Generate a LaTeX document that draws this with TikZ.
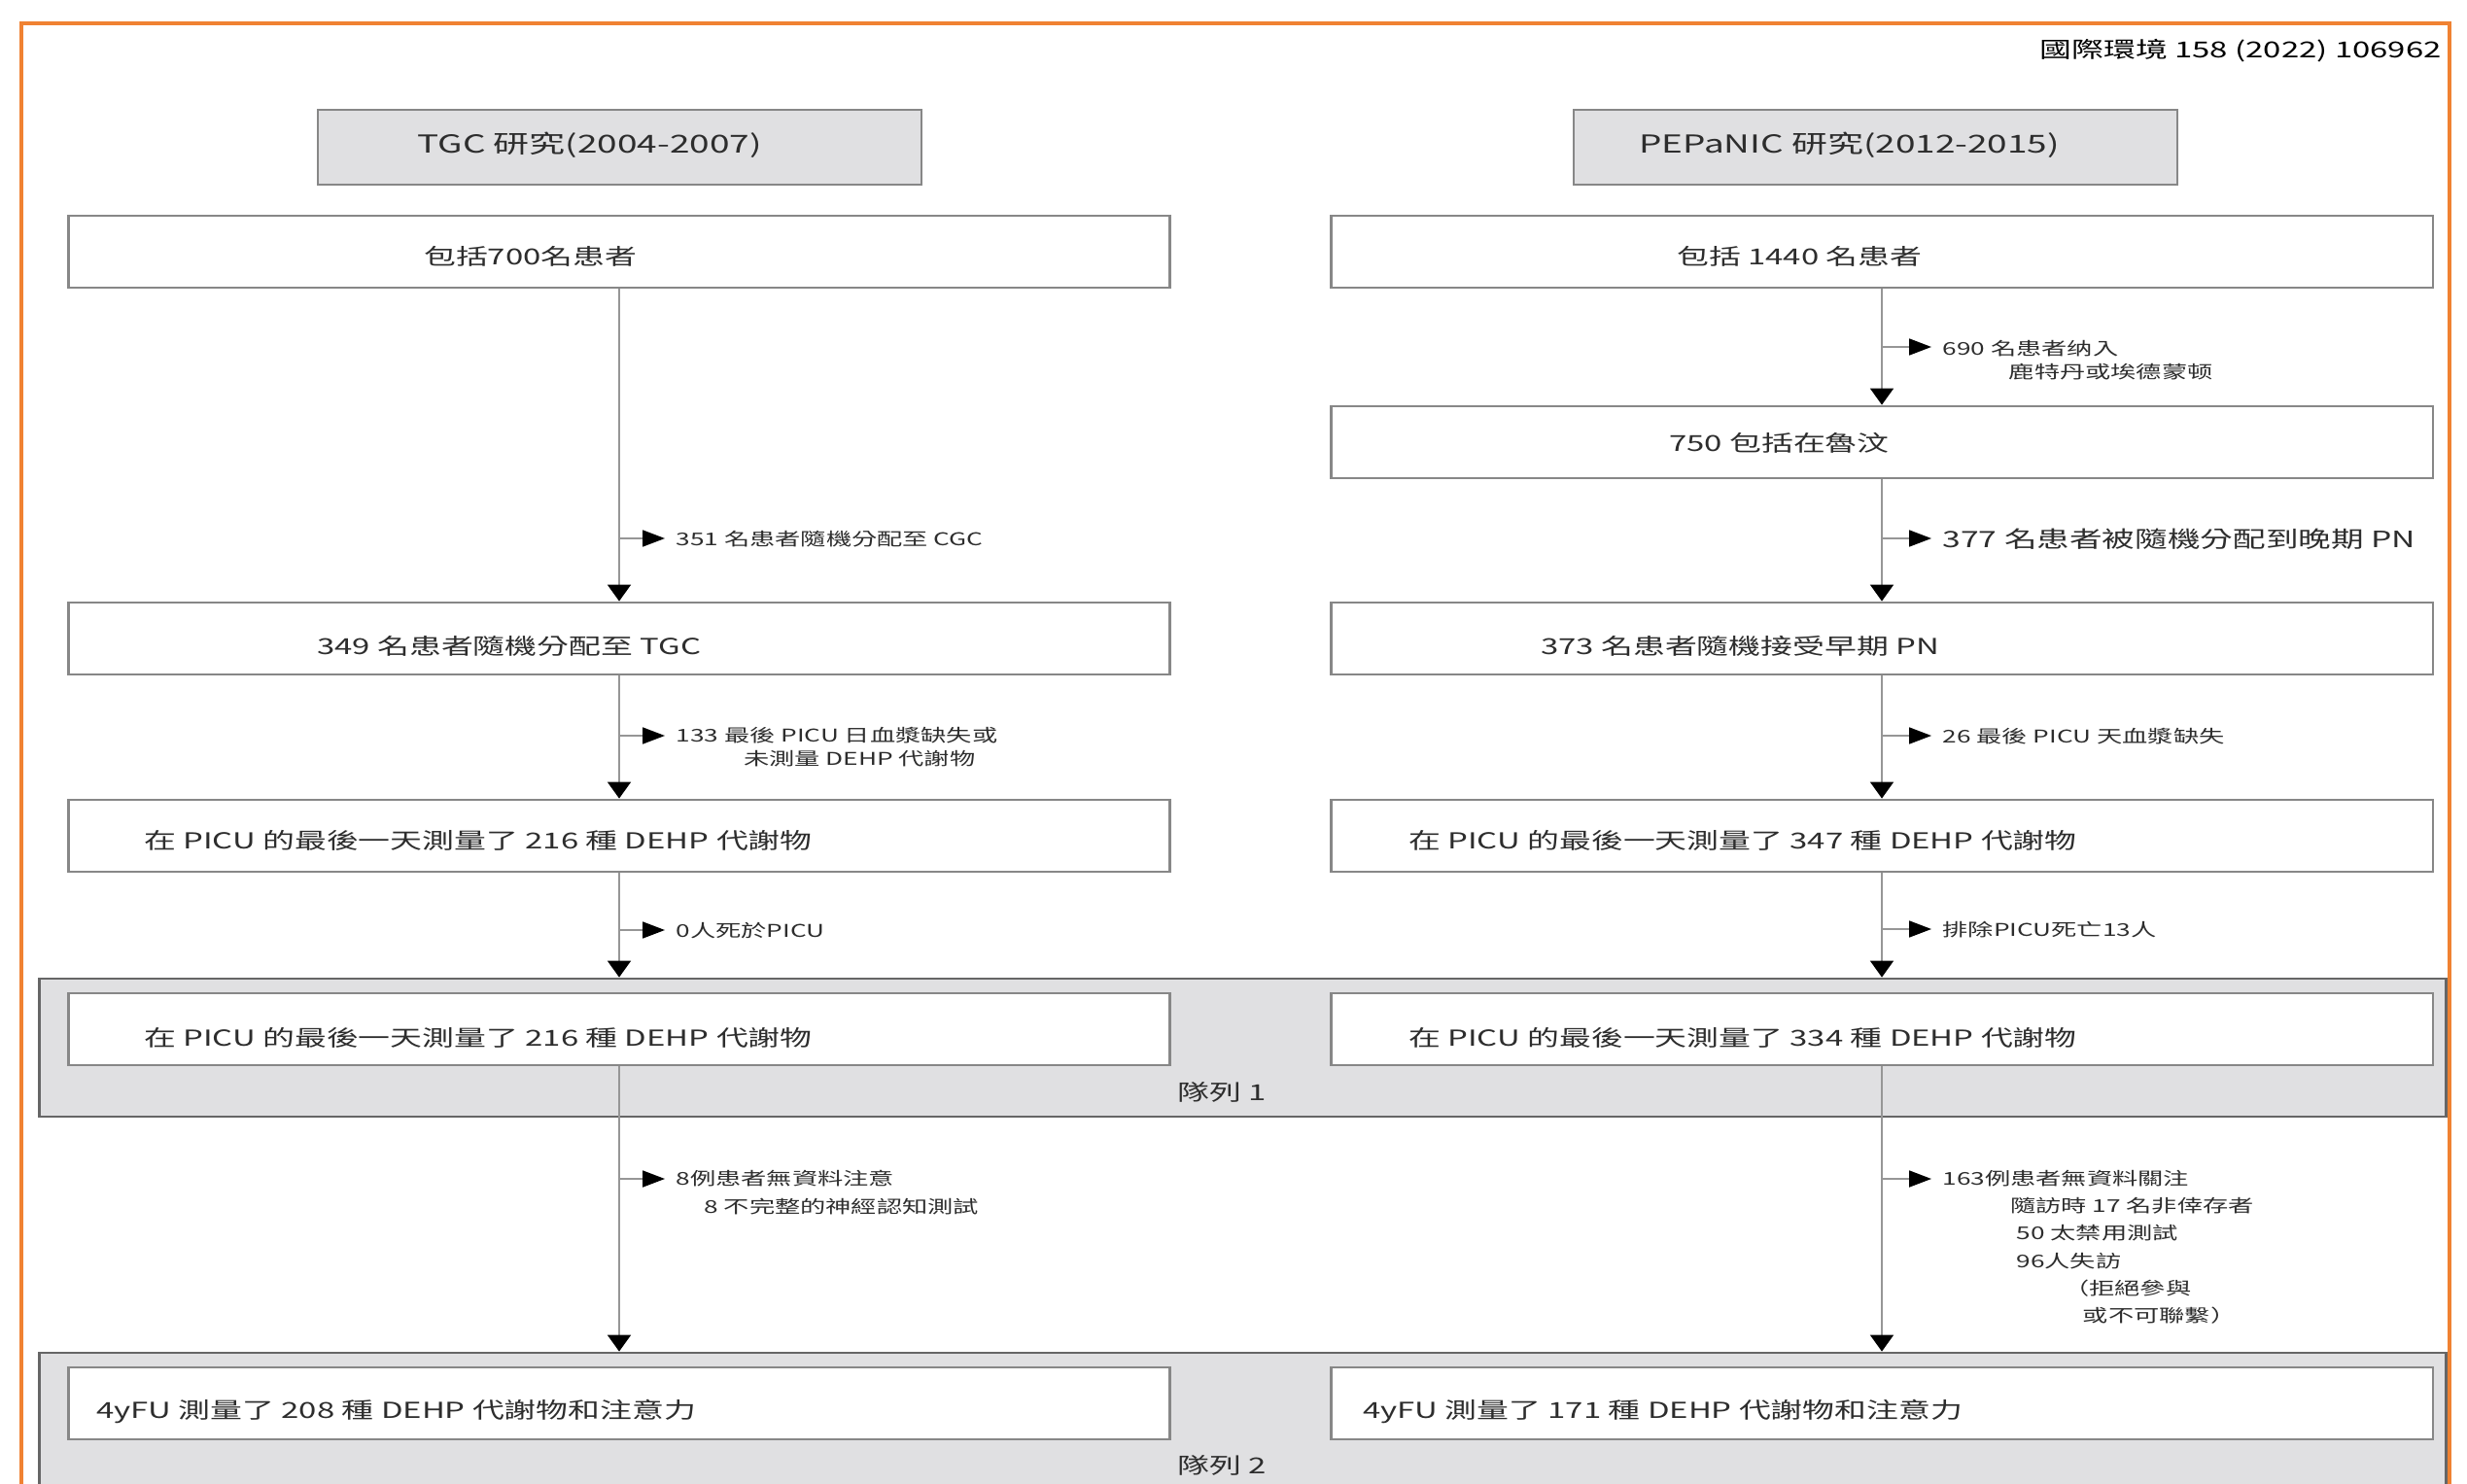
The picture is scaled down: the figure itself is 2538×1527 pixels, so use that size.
\documentclass[tikz,border=0pt]{standalone}
\usepackage{fontspec}
\setmainfont{Noto Sans CJK TC}
\usetikzlibrary{arrows.meta,calc}
\definecolor{framorange}{RGB}{240,130,50}
\definecolor{boxgray}{RGB}{135,135,135}
\definecolor{bandgray}{RGB}{224,224,226}
\definecolor{inkgray}{RGB}{45,45,45}
\definecolor{linegray}{RGB}{150,150,150}
\begin{document}
\begin{tikzpicture}[x=0.02cm, y=-0.02cm,
  box/.style={draw=boxgray, line width=1.6pt, fill=white, minimum width=22.68cm, minimum height=1.48cm, inner sep=0pt},
  headbox/.style={box, fill=bandgray, minimum width=12.42cm, minimum height=1.54cm},
  band/.style={draw=black!60, line width=1.6pt, fill=bandgray, minimum width=49.54cm, inner sep=0pt},
  txt/.style={xscale=1.45, inner sep=0pt, text=inkgray, font=\fontsize{12.9}{15}\selectfont},
  note/.style={txt, align=left, font=\fontsize{10.3}{13.8}\selectfont},
  flow/.style={draw=linegray, line width=1pt, -{Triangle[length=0.34cm, width=0.48cm, color=black]}},
  side/.style={draw=linegray, line width=1pt, shorten >=0.22cm, -{Triangle[length=0.46cm, width=0.34cm, color=black]}}]
  \useasboundingbox (0,0) rectangle (2538,1527);

  % Frame and journal reference
  \draw[framorange, line width=0.08cm] (22,1560) -- (22,24) -- (2520,24) -- (2520,1560);
  \node[txt, anchor=east, text=black] (journal) at (2512,52) {國際環境 158 (2022) 106962};

  % Study headers
  \node[headbox] (tgc) at (637.5,151.5) {};
  \node[txt, font=\fontsize{14.5}{17}\selectfont] (tgctext) at ($(tgc.center)+(-31,-2)$) {TGC 研究(2004-2007)};
  \node[headbox] (pep) at (1929.5,151.5) {};
  \node[txt, font=\fontsize{14.5}{17}\selectfont] (peptext) at ($(pep.center)+(-27,-2)$) {PEPaNIC 研究(2012-2015)};

  % Cohort bands
  \node[band, minimum height=2.84cm] (band1) at (1278.5,1078) {};
  \node[txt, anchor=west] (cohort1) at (1211,1124) {隊列 1};
  \node[band, minimum height=3.6cm] (band2) at (1278.5,1482) {};
  \node[txt, anchor=west] (cohort2) at (1211,1508) {隊列 2};

  % TGC column
  \node[box] (l1) at (637,259) {};
  \node[txt, anchor=west] (l1text) at ($(l1.west)+(367,5)$) {包括700名患者};
  \node[box] (l3) at (637,657) {};
  \node[txt, anchor=west] (l3text) at ($(l3.west)+(257,8)$) {349 名患者隨機分配至 TGC};
  \node[box] (l4) at (637,860) {};
  \node[txt, anchor=west] (l4text) at ($(l4.west)+(79,5)$) {在 PICU 的最後一天測量了 216 種 DEHP 代謝物};
  \node[box] (l5) at (637,1059) {};
  \node[txt, anchor=west] (l5text) at ($(l5.west)+(79,9)$) {在 PICU 的最後一天測量了 216 種 DEHP 代謝物};
  \node[box] (l6) at (637,1444) {};
  \node[txt, anchor=west] (l6text) at ($(l6.west)+(30,9)$) {4yFU 測量了 208 種 DEHP 代謝物和注意力};

  % PEPaNIC column
  \node[box] (r1) at (1936,259) {};
  \node[txt, anchor=west] (r1text) at ($(r1.west)+(357,5)$) {包括 1440 名患者};
  \node[box] (r2) at (1936,455) {};
  \node[txt, anchor=west] (r2text) at ($(r2.west)+(349,1)$) {750 包括在魯汶};
  \node[box] (r3) at (1936,657) {};
  \node[txt, anchor=west] (r3text) at ($(r3.west)+(217,8)$) {373 名患者隨機接受早期 PN};
  \node[box] (r4) at (1936,860) {};
  \node[txt, anchor=west] (r4text) at ($(r4.west)+(81,5)$) {在 PICU 的最後一天測量了 347 種 DEHP 代謝物};
  \node[box] (r5) at (1936,1059) {};
  \node[txt, anchor=west] (r5text) at ($(r5.west)+(81,9)$) {在 PICU 的最後一天測量了 334 種 DEHP 代謝物};
  \node[box] (r6) at (1936,1444) {};
  \node[txt, anchor=west] (r6text) at ($(r6.west)+(34,9)$) {4yFU 測量了 171 種 DEHP 代謝物和注意力};

  % Main flow
  \draw[flow] (l1) -- (l3);
  \draw[flow] (l3) -- (l4);
  \draw[flow] (l4.south) -- (l4.south |- band1.north);
  \draw[flow] (l5.south) -- (l5.south |- band2.north);
  \draw[flow] (r1) -- (r2);
  \draw[flow] (r2) -- (r3);
  \draw[flow] (r3) -- (r4);
  \draw[flow] (r4.south) -- (r4.south |- band1.north);
  \draw[flow] (r5.south) -- (r5.south |- band2.north);

  % Exclusions, TGC
  \coordinate (sl1) at (637,554);
  \node[note, anchor=base west] (nl1) at (695,561) {351 名患者隨機分配至 CGC};
  \draw[side] (sl1) -- (sl1 -| nl1.west);
  \coordinate (sl2) at (637,757);
  \node[note, anchor=north west] (nl2) at (695,748) {133 最後 PICU 日血漿缺失或\\\hspace*{2.65em}未測量 DEHP 代謝物};
  \draw[side] (sl2) -- (sl2 -| nl2.west);
  \coordinate (sl3) at (637,957);
  \node[note, anchor=base west] (nl3) at (695,964) {0人死於PICU};
  \draw[side] (sl3) -- (sl3 -| nl3.west);
  \coordinate (sl4) at (637,1213);
  \node[note, anchor=north west, font=\fontsize{10.3}{16.3}\selectfont] (nl4) at (695,1204) {8例患者無資料注意\\\hspace*{1.1em}8 不完整的神經認知測試};
  \draw[side] (sl4) -- (sl4 -| nl4.west);

  % Exclusions, PEPaNIC
  \coordinate (sr1) at (1936,357);
  \node[note, anchor=north west] (nr1) at (1998,350) {690 名患者纳入\\\hspace*{2.6em}鹿特丹或埃德蒙顿};
  \draw[side] (sr1) -- (sr1 -| nr1.west);
  \coordinate (sr2) at (1936,554);
  \node[note, anchor=base west, font=\fontsize{13.2}{16}\selectfont] (nr2) at (1998,563) {377 名患者被隨機分配到晚期 PN};
  \draw[side] (sr2) -- (sr2 -| nr2.west);
  \coordinate (sr3) at (1936,757);
  \node[note, anchor=base west] (nr3) at (1998,764) {26 最後 PICU 天血漿缺失};
  \draw[side] (sr3) -- (sr3 -| nr3.west);
  \coordinate (sr4) at (1936,956);
  \node[note, anchor=base west] (nr4) at (1998,963) {排除PICU死亡13人};
  \draw[side] (sr4) -- (sr4 -| nr4.west);
  \coordinate (sr5) at (1936,1213);
  \node[note, anchor=north west, font=\fontsize{10.3}{16}\selectfont] (nr5) at (1998,1204) {163例患者無資料關注\\\hspace*{2.65em}隨訪時 17 名非倖存者\\\hspace*{2.9em}50 太禁用測試\\\hspace*{2.9em}96人失訪\\\hspace*{4.75em}（拒絕參與\\\hspace*{5.5em}或不可聯繫）};
  \draw[side] (sr5) -- (sr5 -| nr5.west);
\end{tikzpicture}
\end{document}
